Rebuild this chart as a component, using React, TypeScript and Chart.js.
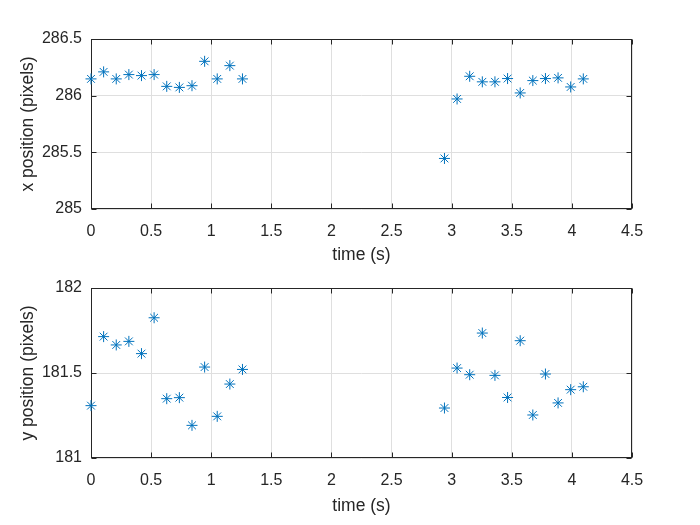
import React, { useEffect, useRef } from "react";
import { Chart, registerables } from "chart.js";

Chart.register(...registerables);

const time = [0, 0.105, 0.21, 0.315, 0.42, 0.525, 0.63, 0.735, 0.84, 0.945, 1.05, 1.155, 1.26,
  2.94, 3.045, 3.15, 3.255, 3.36, 3.465, 3.57, 3.675, 3.78, 3.885, 3.99, 4.095];
const xPosition = [286.148, 286.21, 286.148, 286.186, 286.177, 286.186, 286.082, 286.073, 286.088, 286.303, 286.148, 286.265, 286.148,
  285.446, 285.971, 286.171, 286.122, 286.122, 286.151, 286.024, 286.133, 286.151, 286.157, 286.077, 286.148];
const yPosition = [181.308, 181.714, 181.665, 181.686, 181.614, 181.825, 181.349, 181.355, 181.192, 181.535, 181.245, 181.435, 181.521,
  181.294, 181.529, 181.49, 181.735, 181.486, 181.356, 181.69, 181.253, 181.494, 181.324, 181.402, 181.419];

const timeTicks = [0, 0.5, 1, 1.5, 2, 2.5, 3, 3.5, 4, 4.5];
const xPosTicks = [285, 285.5, 286, 286.5];
const yPosTicks = [181, 181.5, 182];

const FONT = "'Liberation Sans', Arial, Helvetica, sans-serif";
const TEXT = "#262626";
const BLUE = "#0072BD";
const GRID = "#dfdfdf";

const framePlugin = {
  id: "frame",
  beforeDatasetsDraw(chart: any) {
    const { ctx, chartArea: a, scales } = chart;
    const l = Math.round(a.left) + 0.5;
    const r = Math.round(a.right) - 0.5;
    const t = Math.round(a.top) + 0.5;
    const b = Math.round(a.bottom) - 0.5;
    ctx.save();
    ctx.strokeStyle = TEXT;
    ctx.lineWidth = 1;
    ctx.beginPath();
    for (const v of chart.options.plugins.frame.xTicks) {
      const px = Math.round(scales.x.getPixelForValue(v)) + 0.5;
      ctx.moveTo(px, t);
      ctx.lineTo(px, t + 5);
      ctx.moveTo(px, b);
      ctx.lineTo(px, b - 5);
    }
    for (const v of chart.options.plugins.frame.yTicks) {
      const py = Math.round(scales.y.getPixelForValue(v)) + 0.5;
      ctx.moveTo(l, py);
      ctx.lineTo(l + 5, py);
      ctx.moveTo(r, py);
      ctx.lineTo(r - 5, py);
    }
    ctx.stroke();
    ctx.strokeRect(l, t, r - l, b - t);
    ctx.restore();
  },
};

function makeConfig(ys: number[], yTicks: number[], yLabel: string, padTop: number, xAxisH: number, xTitlePad: number) {
  return {
    type: "scatter",
    data: {
      datasets: [
        {
          data: time.map((t, i) => ({ x: t, y: ys[i] })),
          pointStyle: "star",
          pointRadius: 5.5,
          pointBorderWidth: 1,
          borderColor: BLUE,
          backgroundColor: BLUE,
          showLine: false,
          clip: false,
        },
      ],
    },
    options: {
      animation: false,
      responsive: false,
      maintainAspectRatio: false,
      events: [],
      layout: { padding: { left: 0, right: 68, top: padTop, bottom: 0 } },
      plugins: {
        legend: { display: false },
        tooltip: { enabled: false },
        frame: { xTicks: timeTicks, yTicks: yTicks },
      },
      scales: {
        x: {
          type: "linear",
          min: 0,
          max: 4.5,
          afterBuildTicks: (s: any) => { s.ticks = timeTicks.map((v) => ({ value: v })); },
          afterFit: (s: any) => { s.height = xAxisH; },
          grid: { color: GRID, lineWidth: 1, drawTicks: false },
          border: { display: false },
          ticks: {
            padding: 13,
            color: TEXT,
            font: { family: FONT, size: 16 },
            maxRotation: 0,
            autoSkip: false,
            callback: (v: any) => String(v),
          },
          title: {
            display: true,
            text: "time (s)",
            color: TEXT,
            font: { family: FONT, size: 17.5, lineHeight: 1 },
            padding: { top: 0, bottom: xTitlePad },
          },
        },
        y: {
          type: "linear",
          min: yTicks[0],
          max: yTicks[yTicks.length - 1],
          afterBuildTicks: (s: any) => { s.ticks = yTicks.map((v) => ({ value: v })); },
          afterFit: (s: any) => { s.width = 91; },
          grid: { color: GRID, lineWidth: 1, drawTicks: false },
          border: { display: false },
          ticks: {
            padding: 9,
            color: TEXT,
            font: { family: FONT, size: 16 },
            autoSkip: false,
            callback: (v: any) => String(v),
          },
          title: {
            display: true,
            text: yLabel,
            color: TEXT,
            font: { family: FONT, size: 17.5, lineHeight: 1 },
            padding: { top: 19, bottom: 0 },
          },
        },
      },
    },
    plugins: [framePlugin],
  };
}

function Panel({ cfg, top, height }: { cfg: any; top: number; height: number }) {
  const ref = useRef<HTMLCanvasElement>(null);
  useEffect(() => {
    const chart = new Chart(ref.current as HTMLCanvasElement, cfg);
    return () => chart.destroy();
  }, []);
  return (
    <canvas
      ref={ref}
      width={700}
      height={height}
      style={{ position: "absolute", left: 0, top, width: 700, height }}
    />
  );
}

export default function App() {
  return (
    <div style={{ position: "absolute", left: 0, top: 0, width: 700, height: 525, background: "#fff" }}>
      <Panel cfg={makeConfig(xPosition, xPosTicks, "x position (pixels)", 39, 56, 1.5)} top={0} height={265} />
      <Panel cfg={makeConfig(yPosition, yPosTicks, "y position (pixels)", 23, 67, 10.5)} top={265} height={260} />
    </div>
  );
}
